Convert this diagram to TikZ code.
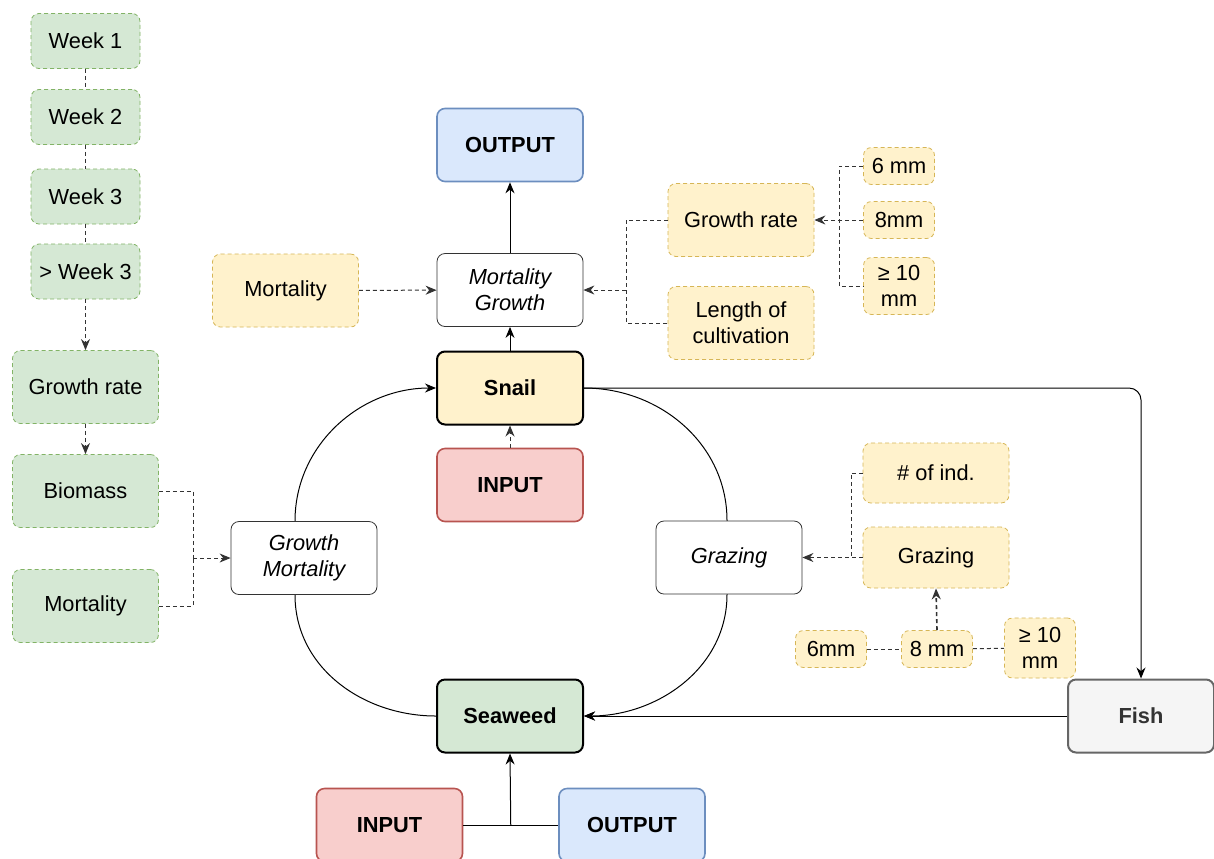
\documentclass[tikz,border=0pt]{standalone}
\usepackage{fontspec}
\setmainfont{Liberation Sans}
\usepackage{tikz}
\usetikzlibrary{arrows.meta,positioning,calc,backgrounds}
\definecolor{lgreen}{HTML}{D5E8D4}\definecolor{dgreen}{HTML}{82B366}
\definecolor{lyellow}{HTML}{FFF2CC}\definecolor{dyellow}{HTML}{D6B656}
\definecolor{lblue}{HTML}{DAE8FC}\definecolor{dblue}{HTML}{6C8EBF}
\definecolor{lred}{HTML}{F8CECC}\definecolor{dred}{HTML}{B85450}
\definecolor{lgray}{HTML}{F5F5F5}\definecolor{dgray}{HTML}{666666}
\newcommand{\fwsize}{\fontsize{10.9}{13}\selectfont}
\tikzset{
  fw/box/.style={draw, rounded corners=4pt, minimum width=73pt, minimum height=36.5pt, align=center, inner sep=1pt, font=\fwsize},
  fw/green/.style={fw/box, draw=dgreen, fill=lgreen, dash pattern=on 2pt off 1.5pt},
  fw/week/.style={fw/green, minimum width=54.5pt, minimum height=27.5pt},
  fw/yellow/.style={fw/box, draw=dyellow, fill=lyellow, dash pattern=on 2pt off 1.5pt},
  fw/small/.style={fw/yellow, minimum width=35.5pt, minimum height=18.5pt},
  fw/proc/.style={fw/box, draw=black!80, fill=white, font=\fwsize\itshape},
  fw/species/.style={fw/box, line width=1pt, font=\fwsize\bfseries},
  fw/input/.style={fw/box, draw=dred, fill=lred, line width=0.8pt, font=\fwsize\bfseries},
  fw/output/.style={fw/box, draw=dblue, fill=lblue, line width=0.8pt, font=\fwsize\bfseries},
  fw/fish/.style={fw/box, draw=dgray, fill=lgray, line width=1pt, text=black!80, font=\fwsize\bfseries},
  fw/line/.style={line width=0.5pt},
  fw/link/.style={fw/line, -{Stealth[length=5.5pt,width=4.5pt]}},
  fw/dline/.style={fw/line, black!80, dash pattern=on 2pt off 1.5pt},
  fw/dlink/.style={fw/dline, -{Stealth[length=5.5pt,width=4.5pt]}}
}
\begin{document}
\begin{tikzpicture}[x=0.5pt, y=-0.5pt]
  \useasboundingbox (0,0) rectangle (1214,858);

  % Left column: seaweed parameters
  \node[fw/week] (w1) at (85.5,41) {Week 1};
  \node[fw/week] (w2) at (85.5,117) {Week 2};
  \node[fw/week] (w3) at (85.5,196.5) {Week 3};
  \node[fw/week] (w4) at (85.5,271.5) {> Week 3};
  \node[fw/green] (grl) at (85.5,387) {Growth rate};
  \node[fw/green] (bio) at (85.5,491) {Biomass};
  \node[fw/green] (mortl) at (85.5,606) {Mortality};

  \draw[fw/dline] (w1) -- (w2);
  \draw[fw/dline] (w2) -- (w3);
  \draw[fw/dline] (w3) -- (w4);
  \draw[fw/dlink] (w4) -- (grl);
  \draw[fw/dlink] (grl) -- (bio);

  % Centre: species and flows
  \node[fw/output] (outt) at (510,145) {OUTPUT};
  \node[fw/proc] (mg) at (510,290) {Mortality\\Growth};
  \node[fw/species, fill=lyellow] (snail) at (510,388) {Snail};
  \node[fw/input] (ins) at (510,485) {INPUT};
  \node[fw/proc] (gm) at (304,558) {Growth\\Mortality};
  \node[fw/proc] (gw) at (729,557.5) {Grazing};
  \node[fw/species, fill=lgreen] (sea) at (510,716) {Seaweed};
  \node[fw/input] (inb) at (389.5,825) {INPUT};
  \node[fw/output] (outb) at (632,825) {OUTPUT};
  \node[fw/fish] (fish) at (1141,716) {Fish};

  \coordinate (jl) at (193,558);
  \draw[fw/dline] (bio.east) -| (jl);
  \draw[fw/dline] (mortl.east) -| (jl);
  \draw[fw/dlink] (jl) -- (gm.west);

  \draw[fw/link] (snail) -- (mg);
  \draw[fw/link] (mg) -- (outt);
  \draw[fw/dlink] (ins) -- (snail);
  \coordinate (jb) at ($(inb.east)!0.5!(outb.west)$);
  \draw[fw/line] (inb.east) -- (outb.west);
  \draw[fw/link] (jb) -- (sea.south);
  \draw[fw/link, rounded corners=6pt] (snail.east) -| (fish.north);
  \draw[fw/link] (fish.west) -- (sea.east);

  \begin{scope}[on background layer]
    \fill[white] (0,0) rectangle (1214,858);
    \draw[fw/link] (sea.west) to[out=180, in=-90] ($(gm.south)+(-9,0)$)
      -- ($(gm.north)+(-9,0)$) to[out=90, in=180] (snail.west);
    \draw[fw/link] (snail.east) to[out=0, in=90] ($(gw.north)+(-2,0)$)
      -- ($(gw.south)+(-2,0)$) to[out=-90, in=0] (sea.east);
  \end{scope}

  % Snail parameters
  \node[fw/yellow] (mortu) at (285.5,290.5) {Mortality};
  \node[fw/yellow] (grr) at (741,220) {Growth rate};
  \node[fw/yellow] (len) at (741,323) {Length of\\cultivation};
  \node[fw/small] (s6) at (899,166) {6 mm};
  \node[fw/small] (s8) at (899,220) {8mm};
  \node[fw/small, minimum height=28.5pt] (s10) at (899,286) {≥ 10\\mm};

  \draw[fw/dlink] (mortu) -- (mg);
  \coordinate (jm) at (626,290);
  \draw[fw/dline] (grr.west) -| (jm) |- (len.west);
  \draw[fw/dlink] (jm) -- (mg.east);
  \coordinate (jr) at (839,220);
  \draw[fw/dline] (s6.west) -| (jr) |- (s10.west);
  \draw[fw/dlink] (s8.west) -- (grr.east);

  % Grazing parameters
  \node[fw/yellow, minimum height=30pt] (ind) at (936,473) {\# of ind.};
  \node[fw/yellow, minimum height=30.5pt] (graz) at (936,557.5) {Grazing};
  \node[fw/small] (g6) at (831,649) {6mm};
  \node[fw/small] (g8) at (937,649) {8 mm};
  \node[fw/small, minimum height=30pt] (g10) at (1040,648) {≥ 10\\mm};

  \coordinate (jg) at (851,557.5);
  \draw[fw/dline] (ind.west) -| (jg);
  \draw[fw/dlink] (graz.west) -- (gw.east);
  \draw[fw/dline] (g6) -- (g8);
  \draw[fw/dline] (g8) -- (g10);
  \draw[fw/dlink, line width=0.8pt] (g8.north) -- (graz.south);
\end{tikzpicture}
\end{document}
